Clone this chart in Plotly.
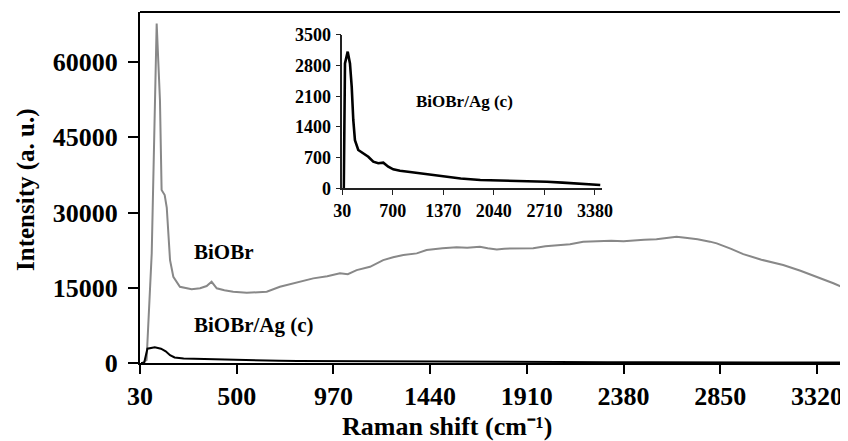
import plotly.graph_objects as go

# BiOBr (grey) Raman spectrum
biobr_x = [40, 62, 87, 111, 127, 135, 150, 160, 176, 192, 224, 281, 322, 354, 378, 403, 440,
           483, 549, 600, 646, 710, 760, 808, 872, 940, 1002, 1040, 1083, 1148, 1212, 1260,
           1310, 1375, 1423, 1500, 1569, 1620, 1682, 1720, 1764, 1800, 1844, 1900, 1941, 2000,
           2060, 2120, 2184, 2250, 2320, 2380, 2427, 2480, 2540, 2600, 2638, 2680, 2740, 2800,
           2833, 2900, 2962, 3050, 3156, 3240, 3319, 3400, 3440, 3452, 3465]
biobr_y = [0, 600, 21900, 67700, 52400, 34500, 33500, 31000, 20500, 17200, 15200, 14700, 14900,
           15350, 16200, 14900, 14500, 14200, 14000, 14100, 14200, 15200, 15700, 16200, 16880,
           17300, 17880, 17700, 18530, 19190, 20530, 21100, 21520, 21860, 22520, 22900, 23060,
           23000, 23180, 22900, 22660, 22800, 22860, 22800, 22900, 23300, 23500, 23700, 24170,
           24300, 24400, 24300, 24500, 24600, 24700, 25000, 25170, 25000, 24700, 24200, 23860,
           22800, 21720, 20600, 19530, 18400, 17200, 15900, 15200, 14600, 12900]

# BiOBr/Ag (c) (black) Raman spectrum
ag_x = [35, 50, 66, 102, 132, 155, 176, 198, 242, 308, 375, 441, 507, 574, 640, 706, 795, 928,
        1060, 1193, 1325, 1414, 1600, 1860, 2100, 2303, 2500, 2744, 2950, 3186, 3350, 3451]
ag_y = [0, 0, 2850, 3120, 2850, 2320, 1560, 1100, 875, 800, 720, 607, 571, 584, 493, 434, 402,
        372, 342, 304, 281, 251, 225, 189, 180, 174, 165, 151, 130, 98, 85, 75]

main_xticks = [30, 500, 970, 1440, 1910, 2380, 2850, 3320]
main_yticks = [0, 15000, 30000, 45000, 60000]
inset_xticks = [30, 700, 1370, 2040, 2710, 3380]
inset_yticks = [0, 700, 1400, 2100, 2800, 3500]

FONT = "Liberation Serif, Times New Roman, serif"

fig = go.Figure()
fig.add_trace(go.Scatter(x=biobr_x, y=biobr_y, mode="lines",
                         line=dict(color="#888888", width=2), xaxis="x", yaxis="y"))
fig.add_trace(go.Scatter(x=ag_x, y=ag_y, mode="lines",
                         line=dict(color="#000000", width=2), xaxis="x", yaxis="y"))
fig.add_trace(go.Scatter(x=ag_x, y=ag_y, mode="lines",
                         line=dict(color="#000000", width=2.6), xaxis="x2", yaxis="y2"))

main_tick_font = dict(family=FONT, size=26, color="black", weight="bold")
inset_tick_font = dict(family=FONT, size=18, color="black", weight="bold")

# page body has an 8px margin: figure is sized/offset so the plot lands where the reference has it
fig.update_layout(
    width=840, height=433,
    margin=dict(l=132, r=0, t=4, b=78),
    paper_bgcolor="white", plot_bgcolor="white",
    showlegend=False,
    xaxis=dict(domain=[0, 1], range=[30, 3471], tickvals=main_xticks,
               ticktext=[str(v) for v in main_xticks], automargin=False,
               showline=True, linecolor="black", linewidth=2,
               ticks="outside", ticklen=9, tickwidth=2, tickcolor="black",
               showgrid=False, zeroline=False, tickfont=main_tick_font,
               ticklabelstandoff=0),
    yaxis=dict(domain=[0, 1], range=[0, 70000], tickvals=main_yticks,
               ticktext=[str(v) for v in main_yticks], automargin=False,
               showline=True, linecolor="black", linewidth=2,
               ticks="outside", ticklen=10, tickwidth=2, tickcolor="black",
               showgrid=False, zeroline=False, tickfont=main_tick_font,
               ticklabelstandoff=5),
    xaxis2=dict(domain=[0.2857, 0.6521], anchor="y2", range=[30, 3470],
                tickvals=inset_xticks, ticktext=[str(v) for v in inset_xticks],
                automargin=False, showline=True, linecolor="#222", linewidth=1.5,
                ticks="outside", ticklen=5, tickwidth=1.2, tickcolor="#222",
                showgrid=False, zeroline=False, tickfont=inset_tick_font),
    yaxis2=dict(domain=[0.4977, 0.9345], anchor="x2", range=[0, 3500],
                tickvals=inset_yticks, ticktext=[str(v) for v in inset_yticks],
                automargin=False, showline=True, linecolor="#222", linewidth=1.5,
                ticks="outside", ticklen=5, tickwidth=1.2, tickcolor="#222",
                showgrid=False, zeroline=False, tickfont=inset_tick_font,
                ticklabelstandoff=1),
    shapes=[dict(type="line", xref="paper", yref="paper", x0=0, x1=1, y0=1, y1=1,
                 line=dict(color="black", width=2))],
)

ann_font = dict(family=FONT, size=21, color="black", weight="bold")
fig.add_annotation(x=283, y=22130, xref="x", yref="y", text="BiOBr", showarrow=False,
                   xanchor="left", yanchor="middle", font=ann_font)
fig.add_annotation(x=283, y=7580, xref="x", yref="y", text="BiOBr/Ag (c)", showarrow=False,
                   xanchor="left", yanchor="middle", font=ann_font)
fig.add_annotation(x=1657, y=1977, xref="x2", yref="y2", text="BiOBr/Ag (c)", showarrow=False,
                   xanchor="center", yanchor="middle",
                   font=dict(family=FONT, size=17, color="black", weight="bold"))

fig.add_annotation(x=0.4336, y=-0.1795, xref="paper", yref="paper",
                   text="Raman shift (cm⁻¹)", showarrow=False,
                   xanchor="center", yanchor="middle",
                   font=dict(family=FONT, size=26, color="black", weight="bold"))
fig.add_annotation(x=-0.161, y=0.493, xref="paper", yref="paper",
                   text="Intensity (a. u.)", showarrow=False, textangle=-90,
                   xanchor="center", yanchor="middle",
                   font=dict(family=FONT, size=25, color="black", weight="bold"))

fig.write_html("out.html")
